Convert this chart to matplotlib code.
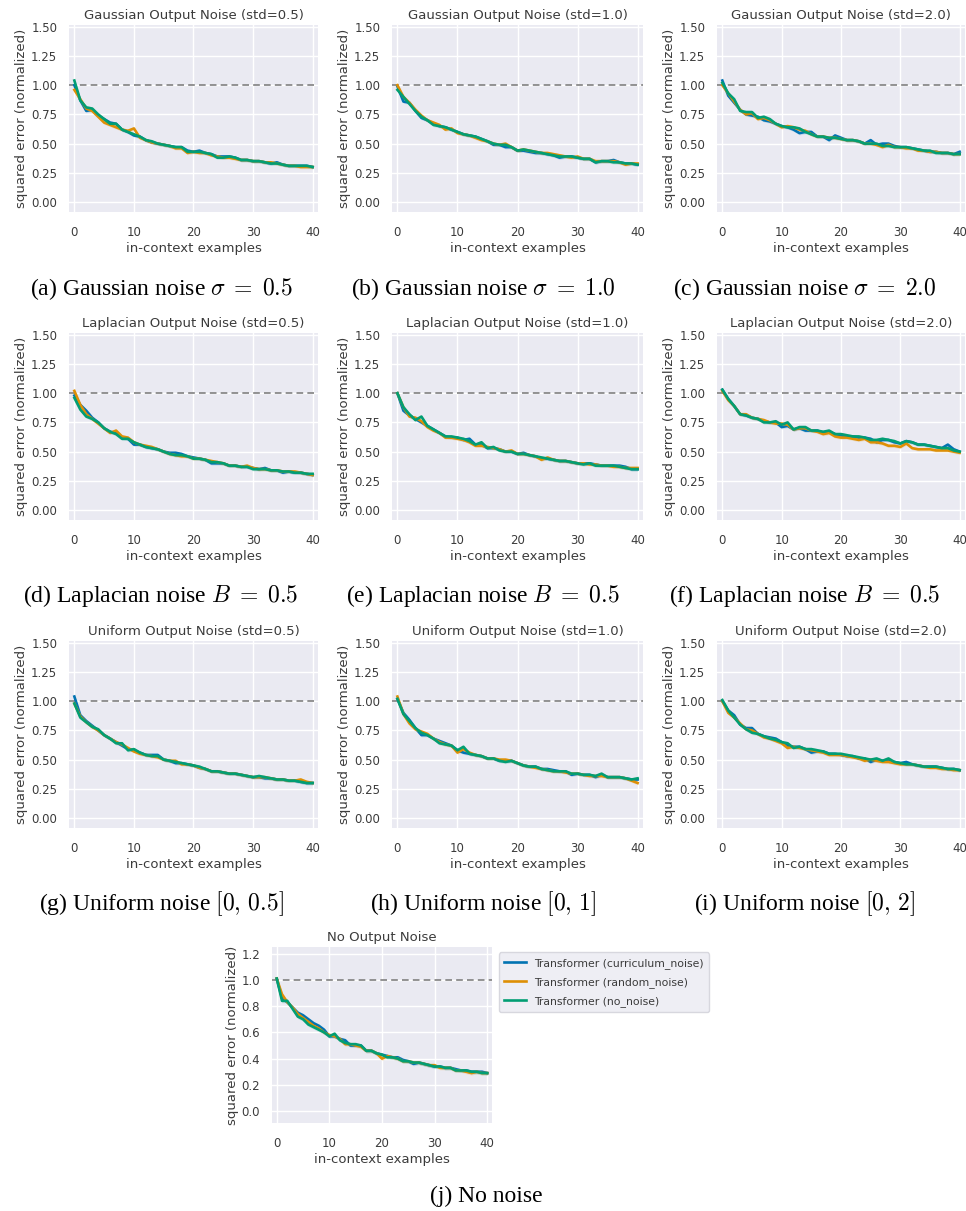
import matplotlib
matplotlib.use("Agg")
import matplotlib.pyplot as plt
import numpy as np

plt.rcParams['mathtext.fontset'] = 'cm'

# x axis: number of in-context examples
n_examples = list(range(41))

# (a) Gaussian std=0.5
gauss05_curr = [1.00,0.87,0.78,0.79,0.74,0.71,0.68,0.67,0.62,0.60,0.57,0.56,0.53,0.51,0.50,0.49,0.48,0.47,0.47,0.44,0.43,0.44,0.42,0.41,0.39,0.39,0.39,0.38,0.36,0.36,0.35,0.35,0.34,0.33,0.34,0.32,0.31,0.31,0.31,0.31,0.30]
gauss05_rand = [0.96,0.88,0.80,0.78,0.73,0.68,0.66,0.64,0.62,0.61,0.63,0.55,0.53,0.51,0.50,0.49,0.48,0.46,0.46,0.42,0.43,0.42,0.42,0.40,0.39,0.38,0.38,0.37,0.36,0.36,0.35,0.35,0.34,0.34,0.33,0.32,0.31,0.31,0.30,0.30,0.30]
gauss05_none = [1.04,0.87,0.81,0.80,0.75,0.71,0.67,0.67,0.62,0.60,0.58,0.56,0.53,0.52,0.50,0.49,0.48,0.47,0.47,0.43,0.43,0.43,0.42,0.41,0.38,0.38,0.39,0.38,0.36,0.36,0.35,0.35,0.34,0.33,0.33,0.32,0.31,0.31,0.31,0.31,0.30]

# (b) Gaussian std=1.0
gauss10_curr = [0.99,0.86,0.85,0.78,0.72,0.70,0.67,0.65,0.64,0.62,0.60,0.58,0.57,0.56,0.54,0.52,0.49,0.49,0.47,0.47,0.44,0.44,0.43,0.42,0.42,0.41,0.40,0.38,0.39,0.39,0.38,0.37,0.37,0.34,0.35,0.35,0.36,0.34,0.33,0.33,0.32]
gauss10_rand = [1.00,0.90,0.85,0.79,0.74,0.70,0.68,0.66,0.62,0.63,0.59,0.58,0.57,0.55,0.53,0.52,0.50,0.49,0.50,0.47,0.44,0.45,0.44,0.43,0.42,0.42,0.41,0.40,0.39,0.38,0.39,0.37,0.37,0.35,0.35,0.35,0.35,0.34,0.32,0.33,0.33]
gauss10_none = [0.96,0.90,0.84,0.78,0.73,0.70,0.66,0.65,0.64,0.62,0.60,0.58,0.57,0.56,0.54,0.52,0.50,0.49,0.49,0.47,0.44,0.45,0.44,0.43,0.42,0.41,0.40,0.39,0.39,0.39,0.38,0.37,0.37,0.34,0.35,0.35,0.34,0.34,0.33,0.33,0.32]

# (c) Gaussian std=2.0
gauss20_curr = [1.04,0.91,0.85,0.79,0.75,0.74,0.73,0.70,0.69,0.67,0.65,0.64,0.62,0.59,0.60,0.60,0.56,0.56,0.53,0.57,0.55,0.53,0.53,0.52,0.50,0.53,0.49,0.50,0.50,0.48,0.47,0.47,0.46,0.45,0.44,0.43,0.43,0.42,0.42,0.41,0.43]
gauss20_rand = [1.00,0.93,0.86,0.79,0.75,0.76,0.71,0.72,0.70,0.67,0.64,0.65,0.64,0.62,0.61,0.58,0.56,0.56,0.55,0.55,0.54,0.53,0.53,0.52,0.50,0.50,0.49,0.47,0.49,0.47,0.47,0.46,0.46,0.44,0.44,0.43,0.43,0.42,0.42,0.41,0.41]
gauss20_none = [1.02,0.93,0.88,0.78,0.77,0.77,0.72,0.73,0.71,0.67,0.65,0.64,0.64,0.63,0.60,0.58,0.56,0.56,0.55,0.55,0.54,0.53,0.53,0.52,0.50,0.50,0.50,0.48,0.48,0.47,0.47,0.47,0.46,0.45,0.44,0.44,0.42,0.42,0.42,0.41,0.41]

# (d) Laplacian std=0.5
lap05_curr = [0.98,0.90,0.85,0.79,0.75,0.70,0.67,0.66,0.62,0.61,0.56,0.56,0.54,0.53,0.52,0.50,0.49,0.49,0.48,0.46,0.45,0.44,0.43,0.40,0.40,0.40,0.38,0.38,0.37,0.37,0.36,0.35,0.36,0.34,0.34,0.32,0.33,0.32,0.32,0.31,0.30]
lap05_rand = [1.02,0.90,0.82,0.78,0.74,0.70,0.66,0.68,0.63,0.62,0.58,0.56,0.55,0.54,0.52,0.50,0.48,0.47,0.46,0.46,0.44,0.44,0.43,0.42,0.41,0.40,0.38,0.38,0.37,0.38,0.36,0.35,0.35,0.34,0.34,0.33,0.33,0.33,0.32,0.31,0.30]
lap05_none = [0.96,0.86,0.80,0.78,0.75,0.70,0.67,0.65,0.61,0.61,0.58,0.56,0.54,0.53,0.52,0.50,0.48,0.47,0.47,0.46,0.44,0.44,0.43,0.41,0.41,0.40,0.38,0.38,0.37,0.37,0.35,0.35,0.35,0.34,0.34,0.33,0.33,0.32,0.32,0.31,0.31]

# (e) Laplacian std=1.0
lap10_curr = [1.00,0.85,0.81,0.78,0.75,0.72,0.69,0.66,0.63,0.62,0.62,0.60,0.61,0.56,0.56,0.53,0.53,0.52,0.50,0.50,0.48,0.49,0.47,0.46,0.44,0.44,0.43,0.42,0.42,0.41,0.40,0.40,0.40,0.39,0.38,0.38,0.38,0.38,0.37,0.35,0.35]
lap10_rand = [1.00,0.88,0.80,0.79,0.76,0.71,0.68,0.66,0.62,0.62,0.61,0.60,0.58,0.55,0.55,0.54,0.53,0.52,0.50,0.51,0.48,0.48,0.47,0.46,0.43,0.45,0.43,0.42,0.42,0.41,0.40,0.40,0.39,0.39,0.38,0.38,0.37,0.37,0.36,0.36,0.36]
lap10_none = [1.00,0.88,0.82,0.77,0.80,0.72,0.69,0.66,0.63,0.63,0.62,0.61,0.59,0.56,0.58,0.53,0.54,0.51,0.50,0.50,0.48,0.48,0.47,0.46,0.45,0.44,0.43,0.42,0.42,0.41,0.40,0.39,0.40,0.38,0.38,0.38,0.38,0.37,0.36,0.35,0.35]

# (f) Laplacian std=2.0
lap20_curr = [1.03,0.95,0.89,0.82,0.81,0.79,0.78,0.76,0.75,0.75,0.71,0.72,0.69,0.70,0.68,0.68,0.68,0.66,0.67,0.65,0.64,0.63,0.63,0.62,0.62,0.61,0.58,0.60,0.60,0.58,0.57,0.59,0.58,0.56,0.56,0.55,0.54,0.53,0.56,0.52,0.50]
lap20_rand = [1.02,0.94,0.89,0.82,0.82,0.79,0.78,0.77,0.75,0.74,0.74,0.73,0.69,0.70,0.70,0.68,0.67,0.65,0.66,0.63,0.62,0.62,0.61,0.60,0.61,0.58,0.58,0.57,0.55,0.55,0.54,0.57,0.53,0.52,0.52,0.52,0.51,0.51,0.51,0.50,0.49]
lap20_none = [1.03,0.95,0.89,0.82,0.81,0.79,0.78,0.75,0.75,0.76,0.73,0.75,0.69,0.71,0.71,0.68,0.68,0.67,0.68,0.65,0.65,0.64,0.63,0.63,0.62,0.60,0.60,0.61,0.60,0.59,0.57,0.59,0.58,0.56,0.56,0.55,0.54,0.53,0.53,0.51,0.50]

# (g) Uniform std=0.5
unif05_curr = [1.04,0.88,0.83,0.79,0.75,0.71,0.68,0.65,0.62,0.59,0.58,0.56,0.54,0.54,0.54,0.50,0.49,0.47,0.47,0.46,0.45,0.43,0.42,0.40,0.40,0.39,0.38,0.38,0.37,0.36,0.35,0.35,0.34,0.34,0.33,0.33,0.32,0.32,0.31,0.30,0.30]
unif05_rand = [0.98,0.87,0.82,0.78,0.75,0.71,0.68,0.65,0.63,0.60,0.57,0.55,0.54,0.53,0.52,0.50,0.49,0.49,0.46,0.46,0.45,0.43,0.42,0.40,0.40,0.39,0.38,0.38,0.37,0.36,0.35,0.35,0.35,0.34,0.33,0.33,0.32,0.32,0.33,0.31,0.30]
unif05_none = [0.98,0.86,0.82,0.78,0.76,0.71,0.68,0.64,0.64,0.58,0.59,0.56,0.54,0.53,0.53,0.50,0.49,0.48,0.47,0.46,0.45,0.44,0.42,0.40,0.40,0.39,0.38,0.38,0.37,0.36,0.35,0.36,0.35,0.34,0.33,0.33,0.32,0.32,0.31,0.30,0.30]

# (h) Uniform std=1.0
unif10_curr = [1.02,0.90,0.84,0.77,0.71,0.71,0.68,0.66,0.64,0.62,0.58,0.56,0.55,0.54,0.53,0.51,0.51,0.49,0.49,0.49,0.47,0.45,0.44,0.44,0.42,0.42,0.41,0.40,0.40,0.37,0.38,0.37,0.37,0.35,0.37,0.35,0.35,0.35,0.34,0.33,0.33]
unif10_rand = [1.04,0.89,0.81,0.76,0.74,0.72,0.68,0.65,0.63,0.62,0.56,0.59,0.56,0.54,0.53,0.51,0.51,0.50,0.50,0.49,0.47,0.45,0.44,0.43,0.42,0.41,0.40,0.40,0.39,0.38,0.38,0.37,0.36,0.36,0.36,0.35,0.35,0.35,0.34,0.32,0.30]
unif10_none = [1.02,0.89,0.83,0.77,0.73,0.71,0.68,0.64,0.63,0.62,0.58,0.61,0.55,0.54,0.53,0.51,0.51,0.49,0.48,0.49,0.47,0.45,0.44,0.44,0.42,0.41,0.40,0.40,0.40,0.38,0.38,0.37,0.37,0.36,0.38,0.35,0.35,0.35,0.34,0.33,0.34]

# (i) Uniform std=2.0
unif20_curr = [1.00,0.92,0.88,0.80,0.77,0.77,0.72,0.70,0.69,0.68,0.65,0.62,0.61,0.61,0.59,0.56,0.57,0.57,0.55,0.55,0.54,0.53,0.53,0.51,0.51,0.48,0.50,0.49,0.49,0.48,0.47,0.48,0.46,0.45,0.44,0.44,0.44,0.43,0.42,0.42,0.41]
unif20_rand = [1.00,0.90,0.86,0.81,0.76,0.75,0.72,0.69,0.68,0.66,0.64,0.60,0.61,0.60,0.59,0.58,0.57,0.56,0.54,0.54,0.54,0.53,0.52,0.51,0.49,0.50,0.49,0.48,0.48,0.47,0.46,0.46,0.46,0.45,0.44,0.43,0.43,0.42,0.42,0.41,0.41]
unif20_none = [1.01,0.92,0.86,0.80,0.76,0.73,0.72,0.70,0.68,0.67,0.65,0.64,0.60,0.61,0.59,0.59,0.58,0.57,0.55,0.55,0.55,0.54,0.53,0.52,0.51,0.50,0.51,0.49,0.51,0.48,0.47,0.46,0.46,0.45,0.44,0.44,0.44,0.43,0.42,0.42,0.41]

# (j) no noise
clean_curr = [1.01,0.86,0.83,0.79,0.75,0.73,0.70,0.67,0.65,0.62,0.57,0.57,0.55,0.54,0.50,0.50,0.50,0.46,0.46,0.44,0.43,0.42,0.41,0.41,0.39,0.38,0.36,0.37,0.36,0.35,0.34,0.34,0.33,0.33,0.32,0.31,0.31,0.30,0.30,0.30,0.29]
clean_rand = [1.01,0.89,0.83,0.79,0.74,0.71,0.68,0.65,0.63,0.60,0.58,0.57,0.55,0.51,0.51,0.50,0.49,0.46,0.46,0.44,0.40,0.42,0.41,0.40,0.38,0.38,0.37,0.37,0.36,0.35,0.35,0.33,0.33,0.33,0.31,0.31,0.30,0.29,0.30,0.29,0.29]
clean_none = [1.01,0.84,0.84,0.78,0.72,0.70,0.66,0.64,0.62,0.60,0.57,0.59,0.54,0.52,0.51,0.51,0.50,0.46,0.46,0.44,0.43,0.41,0.41,0.40,0.38,0.38,0.37,0.37,0.36,0.35,0.34,0.34,0.33,0.33,0.31,0.31,0.31,0.30,0.30,0.29,0.29]

series_names = ["Transformer (curriculum_noise)", "Transformer (random_noise)", "Transformer (no_noise)"]
colors = ["#0173B2", "#DE8F05", "#029E73"]

titles = ["Gaussian Output Noise (std=0.5)", "Gaussian Output Noise (std=1.0)", "Gaussian Output Noise (std=2.0)",
          "Laplacian Output Noise (std=0.5)", "Laplacian Output Noise (std=1.0)", "Laplacian Output Noise (std=2.0)",
          "Uniform Output Noise (std=0.5)", "Uniform Output Noise (std=1.0)", "Uniform Output Noise (std=2.0)",
          "No Output Noise"]
captions = [r"(a) Gaussian noise $\sigma\;=\;0.5$", r"(b) Gaussian noise $\sigma\;=\;1.0$", r"(c) Gaussian noise $\sigma\;=\;2.0$",
            r"(d) Laplacian noise $B\;=\;0.5$", r"(e) Laplacian noise $B\;=\;0.5$", r"(f) Laplacian noise $B\;=\;0.5$",
            r"(g) Uniform noise $[0,\,0.5]$", r"(h) Uniform noise $[0,\,1]$", r"(i) Uniform noise $[0,\,2]$",
            "(j) No noise"]
panel_data = [(gauss05_curr, gauss05_rand, gauss05_none), (gauss10_curr, gauss10_rand, gauss10_none),
              (gauss20_curr, gauss20_rand, gauss20_none), (lap05_curr, lap05_rand, lap05_none),
              (lap10_curr, lap10_rand, lap10_none), (lap20_curr, lap20_rand, lap20_none),
              (unif05_curr, unif05_rand, unif05_none), (unif10_curr, unif10_rand, unif10_none),
              (unif20_curr, unif20_rand, unif20_none), (clean_curr, clean_rand, clean_none)]

W, H = 966, 1211
fig = plt.figure(figsize=(W / 100, H / 100), dpi=100)

BG = "#EAEAF2"
TXT = "#3b3b3b"

def px_axes(left, top, w, h):
    return fig.add_axes([left / W, 1 - (top + h) / H, w / W, h / H])

def style(ax):
    ax.set_facecolor(BG)
    for s in ax.spines.values():
        s.set_visible(False)
    ax.grid(True, color="white", lw=1.0)
    ax.set_axisbelow(True)
    ax.tick_params(length=0, labelsize=8.5, labelcolor=TXT)
    ax.tick_params(axis="x", pad=10)
    ax.tick_params(axis="y", pad=8.5)

col_left = [69, 392, 717]
col_w = [249, 251, 248]
row_top = [25, 333, 641]
row_caption = [289, 596, 904]
col_center = [161, 483, 805]

axes = []
for i in range(10):
    if i < 9:
        r, c = divmod(i, 3)
        ax = px_axes(col_left[c], row_top[r], col_w[c], 187)
        ylim = (-0.085, 1.515)
        yt = [0.0, 0.25, 0.5, 0.75, 1.0, 1.25, 1.5]
        ytl = ["0.00", "0.25", "0.50", "0.75", "1.00", "1.25", "1.50"]
        capx, capy = col_center[c], row_caption[r]
    else:
        ax = px_axes(272, 947, 220, 176)
        ylim = (-0.09, 1.25)
        yt = [0.0, 0.2, 0.4, 0.6, 0.8, 1.0, 1.2]
        ytl = ["0.0", "0.2", "0.4", "0.6", "0.8", "1.0", "1.2"]
        capx, capy = 486, 1196
    style(ax)
    ax.axhline(1.0, color="#808080", ls=(0, (4, 2.5)), lw=1.2, zorder=1)
    for vals, name, col in zip(panel_data[i], series_names, colors):
        v = np.array(vals)
        ax.fill_between(n_examples, v - 0.015, v + 0.015, color=col, alpha=0.15, lw=0)
        ax.plot(n_examples, v, color=col, lw=1.9, label=name, zorder=3)
    ax.set_xlim(-0.9, 40.9)
    ax.set_ylim(*ylim)
    ax.set_xticks([0, 10, 20, 30, 40])
    ax.set_yticks(yt)
    ax.set_yticklabels(ytl)
    ax.set_xlabel("in-context examples", fontsize=9.5, color=TXT, labelpad=2)
    ax.set_ylabel("squared error (normalized)", fontsize=9.5, color=TXT, labelpad=2)
    ax.set_title(titles[i], fontsize=9.5, color=TXT, pad=4)
    fig.text(capx / W, 1 - capy / H, captions[i], ha="center", va="center",
             fontsize=17, family="Liberation Serif", color="black")
    axes.append(ax)

leg = axes[9].legend(loc="upper left", bbox_to_anchor=(1.005, 1.0), fontsize=7.8,
                     frameon=True, facecolor=BG, edgecolor="#d0d0d8", handlelength=2.0,
                     borderpad=0.5, labelspacing=0.75)
for t in leg.get_texts():
    t.set_color(TXT)

fig.savefig("out.png", dpi=100)
